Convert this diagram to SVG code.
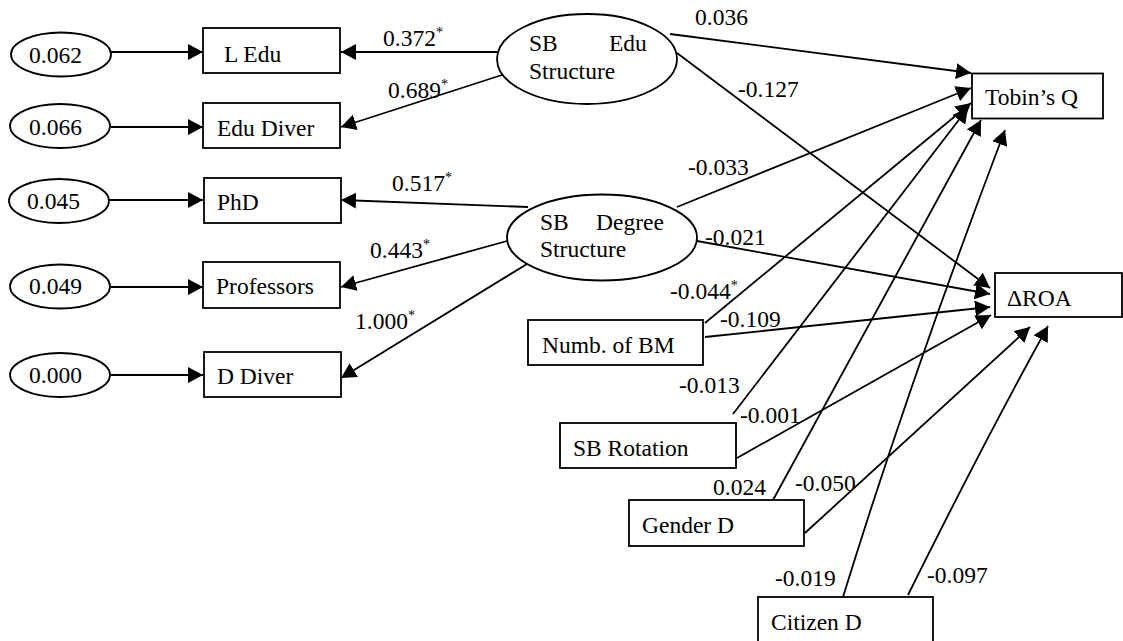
<svg xmlns="http://www.w3.org/2000/svg" width="1123" height="641" viewBox="0 0 1123 641" font-family="'Liberation Serif', 'DejaVu Serif', serif">
<defs>
<marker id="ah" markerUnits="userSpaceOnUse" markerWidth="17" markerHeight="17" refX="15" refY="8" orient="auto">
<path d="M0,0 L15,8 L0,16 z" fill="#000"/>
</marker>
<style>
text{font-family:'Liberation Serif','DejaVu Serif',serif;font-size:23.5px;fill:#000}
.sup{font-size:14px}
.n{fill:#fff;stroke:#000;stroke-width:1.8}
.c{fill:none;stroke:#000;stroke-width:1.8;marker-end:url(#ah)}
</style>
</defs>
<rect width="1123" height="641" fill="#fff"/>

<g id="connectors">
<line class="c" x1="111" y1="52" x2="203" y2="52"/>
<line class="c" x1="111" y1="127" x2="203" y2="127"/>
<line class="c" x1="109" y1="200" x2="203" y2="200"/>
<line class="c" x1="110" y1="287" x2="203" y2="287"/>
<line class="c" x1="110" y1="375" x2="203" y2="375"/>

<line class="c" x1="497" y1="52" x2="341" y2="52"/>
<line class="c" x1="505" y1="74" x2="341" y2="127"/>
<line class="c" x1="528" y1="207" x2="341" y2="200"/>
<line class="c" x1="507" y1="241" x2="341" y2="287"/>
<line class="c" x1="527" y1="264" x2="341" y2="378"/>

<line class="c" x1="670" y1="34" x2="971" y2="73"/>
<line class="c" x1="677" y1="53" x2="990" y2="288"/>
<line class="c" x1="677" y1="207" x2="971" y2="88"/>
<line class="c" x1="697" y1="241" x2="990" y2="294"/>
<line class="c" x1="705" y1="323" x2="971" y2="103"/>
<line class="c" x1="705" y1="337" x2="990" y2="307"/>
<line class="c" x1="733" y1="414" x2="968" y2="108"/>
<line class="c" x1="737" y1="458" x2="991" y2="315"/>
<line class="c" x1="773" y1="500" x2="981" y2="120"/>
<line class="c" x1="805" y1="533" x2="1030" y2="327"/>
<path class="c" d="M843,597 Q910,380 1005,130"/>
<path class="c" d="M908,595 Q985,440 1048,326"/>
</g>

<g id="e062"><ellipse class="n" cx="61" cy="54.5" rx="50" ry="22"/><text x="29" y="62.5">0.062</text></g>
<g id="e066"><ellipse class="n" cx="60" cy="126" rx="50" ry="22"/><text x="29" y="135">0.066</text></g>
<g id="e045"><ellipse class="n" cx="59" cy="201" rx="50" ry="22"/><text x="27" y="208.5">0.045</text></g>
<g id="e049"><ellipse class="n" cx="60" cy="286.5" rx="50" ry="22"/><text x="29" y="294">0.049</text></g>
<g id="e000"><ellipse class="n" cx="60" cy="375" rx="50" ry="22"/><text x="29" y="383">0.000</text></g>

<g id="ledu"><rect class="n" x="203" y="28" width="137" height="45"/><text x="224" y="62">L Edu</text></g>
<g id="edudiver"><rect class="n" x="203" y="103" width="137" height="45"/><text x="217" y="136">Edu Diver</text></g>
<g id="phd"><rect class="n" x="204" y="178" width="137" height="45"/><text x="217" y="210">PhD</text></g>
<g id="professors"><rect class="n" x="203" y="262" width="137" height="46"/><text x="216" y="294">Professors</text></g>
<g id="ddiver"><rect class="n" x="204" y="352" width="137" height="45"/><text x="217" y="384">D Diver</text></g>

<g id="sbedu"><ellipse class="n" cx="587" cy="59" rx="90" ry="45"/><text x="529" y="51">SB</text><text x="609" y="51">Edu</text><text x="529" y="79">Structure</text></g>
<g id="sbdegree"><ellipse class="n" cx="602" cy="237.5" rx="95" ry="43"/><text x="540" y="230">SB</text><text x="596" y="230">Degree</text><text x="540" y="257">Structure</text></g>

<g id="tobinsq"><rect class="n" x="972" y="73.5" width="131" height="45"/><text x="985" y="105">Tobin’s Q</text></g>
<g id="droa"><rect class="n" x="995" y="273" width="127" height="44"/><text x="1007" y="306">ΔROA</text></g>

<g id="numbbm"><rect class="n" x="528" y="320" width="175" height="45"/><text x="542" y="353">Numb. of BM</text></g>
<g id="sbrotation"><rect class="n" x="560" y="423" width="176" height="45"/><text x="573" y="456">SB Rotation</text></g>
<g id="genderd"><rect class="n" x="629" y="500" width="175" height="46"/><text x="642" y="533">Gender D</text></g>
<g id="citizend"><rect class="n" x="758" y="597" width="175" height="46"/><text x="771" y="630">Citizen D</text></g>

<g id="labels">
<text x="383" y="46">0.372<tspan class="sup" dy="-9">*</tspan></text>
<text x="388" y="98">0.689<tspan class="sup" dy="-9">*</tspan></text>
<text x="392" y="191">0.517<tspan class="sup" dy="-9">*</tspan></text>
<text x="370" y="258">0.443<tspan class="sup" dy="-9">*</tspan></text>
<text x="355" y="329">1.000<tspan class="sup" dy="-9">*</tspan></text>
<text x="695" y="25">0.036</text>
<text x="738" y="97">-0.127</text>
<text x="688" y="175">-0.033</text>
<text x="705" y="245">-0.021</text>
<text x="670" y="299">-0.044<tspan class="sup" dy="-9">*</tspan></text>
<text x="720" y="327">-0.109</text>
<text x="679" y="393">-0.013</text>
<text x="740" y="423">-0.001</text>
<text x="713" y="495">0.024</text>
<text x="795" y="491">-0.050</text>
<text x="775" y="586">-0.019</text>
<text x="927" y="583">-0.097</text>
</g>
</svg>
